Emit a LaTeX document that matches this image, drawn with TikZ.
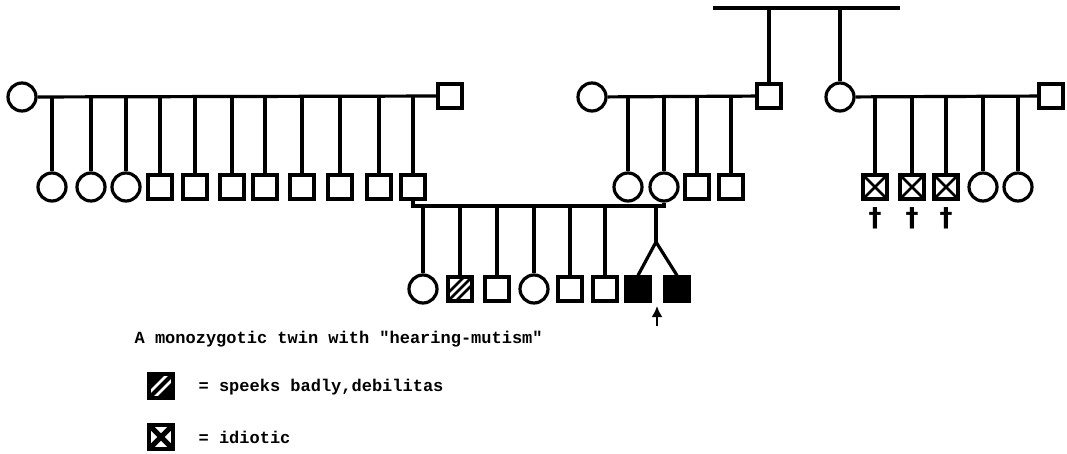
\documentclass[tikz,border=0pt]{standalone}
\usepackage{fontspec}
\setmonofont{Liberation Mono}
\newfontfamily\dagfont{DejaVu Sans}
\usetikzlibrary{positioning}
\usetikzlibrary{arrows.meta}
\tikzset{male/.style={draw,rectangle,minimum size=24pt,inner sep=0pt},
    female/.style={draw,circle,minimum size=28pt,inner sep=0pt},
    affected/.style={male,fill=black},
    idiot/.style={male,
        path picture={
            \draw[line width=#1] (path picture bounding box.south west) -- (path picture bounding box.north east)
                (path picture bounding box.north west) -- (path picture bounding box.south east);
        }
    },
    idiot/.default=2.8pt,
    speech/.style={male,
        path picture={
            \foreach \s in {-8,0,8}
            {\draw[line width=2.8pt] ([xshift=\s pt]path picture bounding box.south west) -- ([xshift=\s pt]path picture bounding box.north east);}
        }
    },
    speechkey/.style={male,fill=black,
        path picture={
            \foreach \s in {-5,5}
            {\draw[white,line width=2.5pt] ([xshift=\s pt]path picture bounding box.south west) -- ([xshift=\s pt]path picture bounding box.north east);}
        }
    },
    label text/.style={font=\ttfamily\bfseries\fontsize{17}{20}\selectfont,inner sep=0pt,anchor=west}}

\begin{document}
\begin{tikzpicture}[x=1pt,y=-1pt,line width=3.2pt]
      \useasboundingbox (0,0) rectangle (1067,454);
      % grandparents
      \coordinate (top1) at (713,8);
      \coordinate (top2) at (900,8);
      \draw (top1) -- (top2);
      % second generation couples
      \node[female] (f1) at (22,97) {};
      \node[male] (m1) at (450,96) {};
      \node[female] (f2) at (592,97) {};
      \node[male] (m2) at (769,96) {};
      \node[female] (f3) at (840,97) {};
      \node[male] (m3) at (1051,96) {};
      \draw (f1) -- (m1);
      \draw (f2) -- (m2);
      \draw (f3) -- (m3);
      \draw (m2.north) -- (m2.north |- top1);
      \draw (f3.north) -- (f3.north |- top1);
      % children of f1 and m1
      \foreach \n/\x/\s in {1/52/female,2/91/female,3/126/female,4/160/male,5/195/male,6/232/male,7/265/male,8/302/male,9/340/male,10/379/male,11/413/male}
      {\node[\s] (a\n) at (\x,187) {};
       \draw (a\n.north) -- (a\n.north |- m1);}
      % children of f2 and m2
      \foreach \n/\x/\s in {1/628/female,2/664/female,3/697/male,4/731/male}
      {\node[\s] (b\n) at (\x,187) {};
       \draw (b\n.north) -- (b\n.north |- m2);}
      % children of f3 and m3
      \foreach \n/\x/\s in {1/875/idiot,2/912/idiot,3/946/idiot,4/983/female,5/1018/female}
      {\node[\s] (c\n) at (\x,187) {};
       \draw (c\n.north) -- (c\n.north |- m3);}
      \foreach \n in {1,2,3}
      {\node[inner sep=0pt,anchor=north,font=\dagfont\bfseries\fontsize{26}{26}\selectfont] (d\n) at (c\n.south |- 0,206) {†};}
      % third generation
      \coordinate (mar) at (413,206);
      \draw (a11.south) -- (a11.south |- mar) -| (b2.south);
      \foreach \n/\x/\s in {1/423/female,2/460/speech,3/497/male,4/534/female,5/570/male,6/605/male}
      {\node[\s] (g\n) at (\x,289) {};
       \draw (g\n.north) -- (g\n.north |- mar);}
      \node[affected] (t1) at (638,289) {};
      \node[affected] (t2) at (677,289) {};
      \coordinate (tw) at (656,242);
      \draw (tw |- mar) -- (tw);
      \draw (tw) -- (t1.north);
      \draw (tw) -- (t2.north);
      % texts
      \node[label text] (lbl) at (133,339) {A monozygotic twin with "hearing-mutism"};
      \coordinate (tail) at (657,326);
      \draw[line width=2.8pt,-{Latex[length=11pt,width=11pt]}] (tail) -- (tail |- 0,306);
      \node[speechkey] (k1) at (161,386) {};
      \node[label text] (k1t) at (197,387) {= speeks badly,debilitas};
      \node[idiot=5pt] (k2) at (161,437) {};
      \node[label text] (k2t) at (197,437) {= idiotic};
\end{tikzpicture}
\end{document}
